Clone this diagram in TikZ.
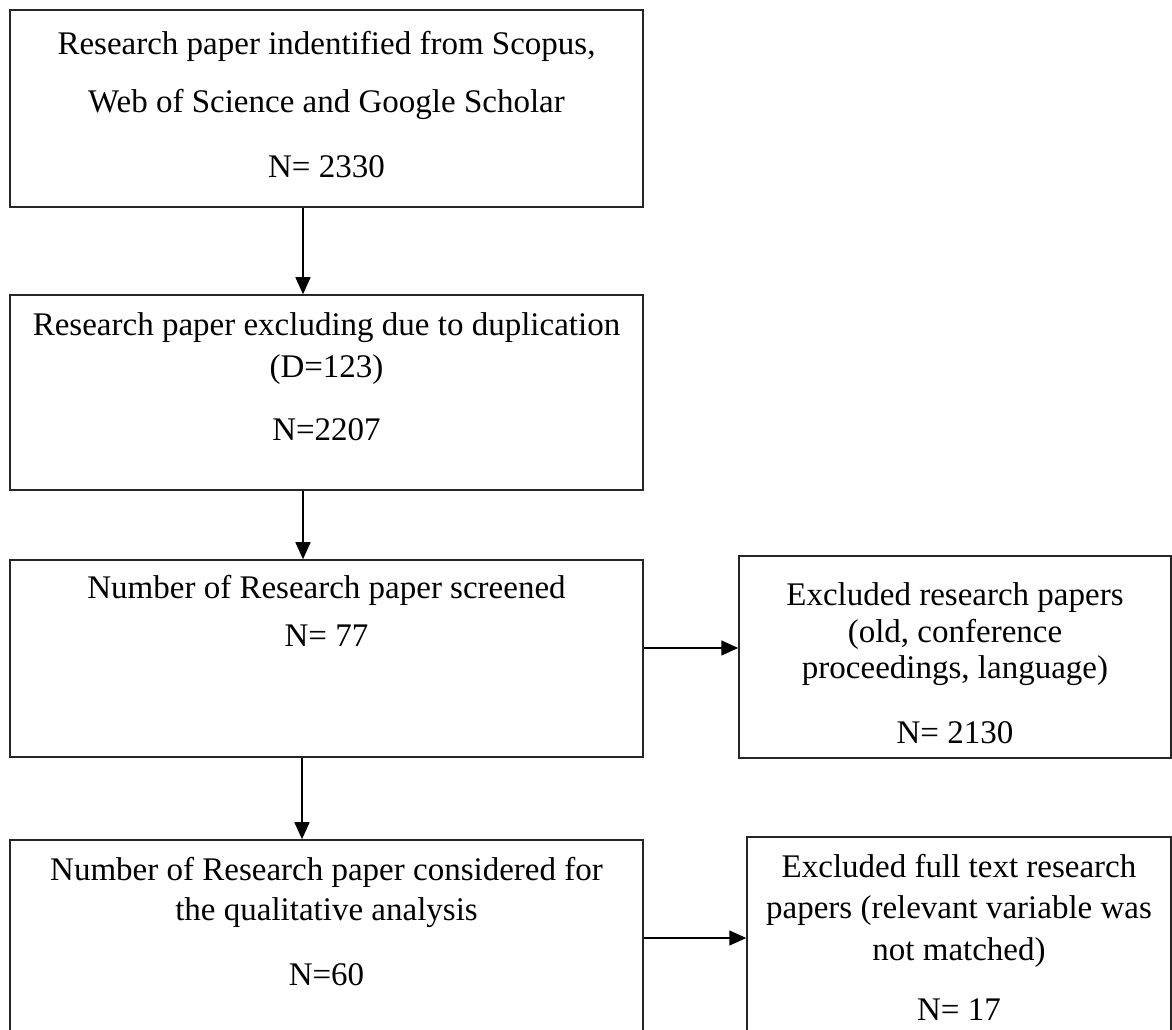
\documentclass[tikz,border=0pt]{standalone}
\usepackage{fontspec}
\setmainfont{Liberation Serif}
\usetikzlibrary{arrows.meta}
\begin{document}
\begin{tikzpicture}[x=1pt,y=1pt,
  box/.style={draw=black!85, line width=1.5pt, rectangle, inner sep=0pt},
  txt/.style={anchor=base, inner sep=0pt, font=\fontsize{33}{40}\selectfont},
  arr/.style={draw=black, line width=1.5pt, -{Triangle[length=17pt,width=15pt]}}]
\useasboundingbox (0,0) rectangle (1172,1030);
% boxes
\node[box, minimum width=633pt, minimum height=197pt] (b1) at (326.5,921.5) {};
\node[box, minimum width=633pt, minimum height=195pt] (b2) at (326.5,637.5) {};
\node[box, minimum width=633pt, minimum height=197pt] (b3) at (326.5,371.5) {};
\node[box, minimum width=633pt, minimum height=195pt] (b4) at (326.5,92.5) {};
\node[box, minimum width=432pt, minimum height=202pt] (r1) at (955,373) {};
\node[box, minimum width=424pt, minimum height=198pt] (r2) at (959,94) {};
% texts
\node[txt] (t1a) at (326.5,975) {Research paper indentified from Scopus,};
\node[txt] (t1b) at (326.5,917) {Web of Science and Google Scholar};
\node[txt] (t1c) at (326.5,852) {N= 2330};
\node[txt] (t2a) at (326.5,694) {Research paper excluding due to duplication};
\node[txt] (t2b) at (326.5,652) {(D=123)};
\node[txt] (t2c) at (326.5,589) {N=2207};
\node[txt] (t3a) at (326.5,431) {Number of Research paper screened};
\node[txt] (t3b) at (326.5,383) {N= 77};
\node[txt] (t4a) at (326.5,149) {Number of Research paper considered for};
\node[txt] (t4b) at (326.5,109) {the qualitative analysis};
\node[txt] (t4c) at (326.5,44) {N=60};
\node[txt] (r1a) at (955,424) {Excluded research papers};
\node[txt] (r1b) at (955,387) {(old, conference};
\node[txt] (r1c) at (955,351) {proceedings, language)};
\node[txt] (r1d) at (955,286) {N= 2130};
\node[txt] (r2a) at (959,152) {Excluded full text research};
\node[txt] (r2b) at (959,111) {papers (relevant variable was};
\node[txt] (r2c) at (959,69) {not matched)};
\node[txt] (r2d) at (959,9) {N= 17};
% connectors
\coordinate (h1) at ([yshift=10.5pt]b3.east);
\coordinate (h2) at ([yshift=-0.5pt]b4.east);
\draw[arr] ([xshift=-23.5pt]b1.south) -- ([xshift=-23.5pt]b2.north);
\draw[arr] ([xshift=-23.5pt]b2.south) -- ([xshift=-23.5pt]b3.north);
\draw[arr] ([xshift=-24.5pt]b3.south) -- ([xshift=-24.5pt]b4.north);
\draw[arr] (h1) -- (r1.west |- h1);
\draw[arr] (h2) -- (r2.west |- h2);
\end{tikzpicture}
\end{document}
